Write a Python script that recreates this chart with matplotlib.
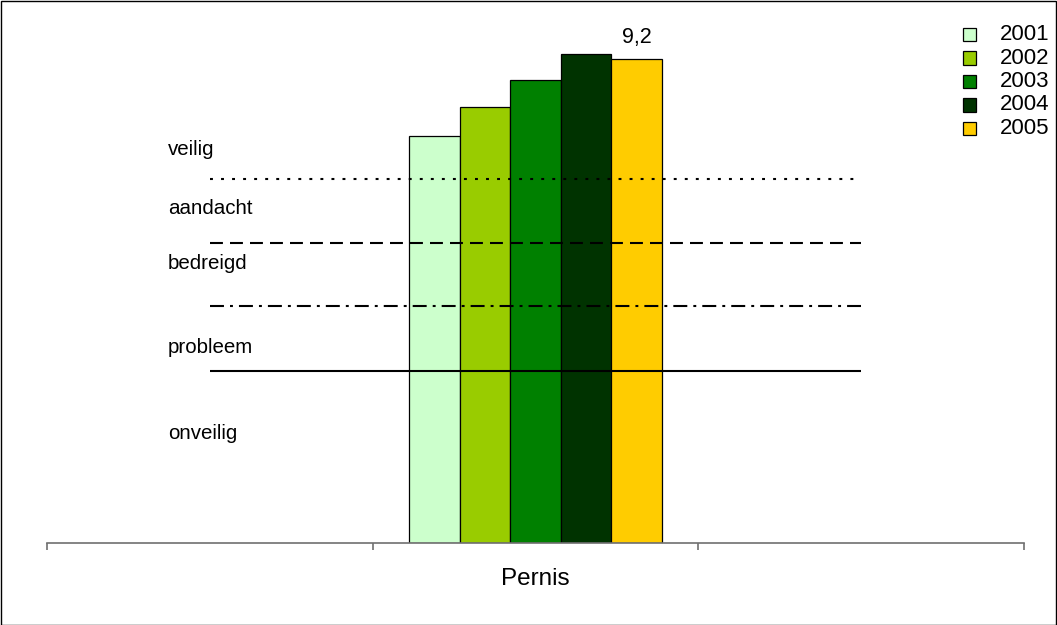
import matplotlib
matplotlib.use("Agg")
import matplotlib.pyplot as plt
from matplotlib.patches import Rectangle

plt.rcParams['font.family'] = ['Liberation Sans', 'DejaVu Sans']

years = ['2001', '2002', '2003', '2004', '2005']
values = [7.75, 8.3, 8.8, 9.3, 9.2]
colors = ['#CCFFCC', '#99CC00', '#008000', '#003300', '#FFCC00']
category = 'Pernis'
value_label = '9,2'

zone_names = ['veilig', 'aandacht', 'bedreigd', 'probleem', 'onveilig']
zone_label_y = [7.49, 6.37, 5.31, 3.71, 2.09]
thresholds = [6.92, 5.71, 4.51, 3.27]

W, H = 1057, 625
fig = plt.figure(figsize=(W / 100, H / 100), dpi=100)
ax = fig.add_axes([47 / W, (H - 543) / H, (1024 - 47) / W, (543 - 20) / H])
ax.set_xlim(0, 3)
ax.set_ylim(0, 9.95)

center = 1.5
bw = 0.155
for i, (y, v, c) in enumerate(zip(years, values, colors)):
    ax.bar(center + (i - 2) * bw, v, width=bw, color=c, edgecolor='black',
           linewidth=0.9, zorder=2)

ax.annotate(value_label, xy=(center + 2 * bw, values[-1]), xytext=(0, 22),
            textcoords='offset pixels', ha='center', va='center', fontsize=15.5)

lw = 1.5
styles = [(0, (1.4, 3.9)), (0, (6.2, 3.4)), (0, (6.7, 2.9, 1.4, 2.9)), '-']
for t, ls in zip(thresholds, styles):
    ax.plot([0.5, 2.5], [t, t], color='black', lw=lw, linestyle=ls, zorder=3,
            solid_capstyle='butt', dash_capstyle='butt')

for name, ly in zip(zone_names, zone_label_y):
    ax.text(0.372, ly, name, ha='left', va='center', fontsize=14.8)

for s in ['top', 'right', 'left']:
    ax.spines[s].set_visible(False)
ax.spines['bottom'].set_color('#707070')
ax.spines['bottom'].set_linewidth(1.2)
ax.set_yticks([])
ax.set_xticks([0, 1, 2, 3])
ax.set_xticklabels([])
ax.tick_params(axis='x', direction='out', length=5, width=1.2, color='#707070')
ax.annotate(category, xy=(center, 0), xycoords=('data', 'axes fraction'),
            xytext=(0, -36), textcoords='offset pixels', ha='center',
            va='center', fontsize=17.5)

# legend (drawn in figure pixel coordinates)
leg_y0, leg_dy = 34.5, 23.5
for i, (y, c) in enumerate(zip(years, colors)):
    yc = leg_y0 + i * leg_dy
    fig.add_artist(Rectangle(((962.5) / W, (H - yc - 6.5) / H), 13 / W, 13 / H,
                             transform=fig.transFigure, facecolor=c,
                             edgecolor='black', linewidth=0.9))
    fig.text(1000 / W, (H - yc) / H, y, ha='left', va='center', fontsize=16)

fig.add_artist(Rectangle((0.5 / W, 0.5 / H), (W - 1.5) / W, (H - 1.5) / H,
                         transform=fig.transFigure, fill=False,
                         edgecolor='black', linewidth=1))

fig.savefig('out.png', dpi=100)
